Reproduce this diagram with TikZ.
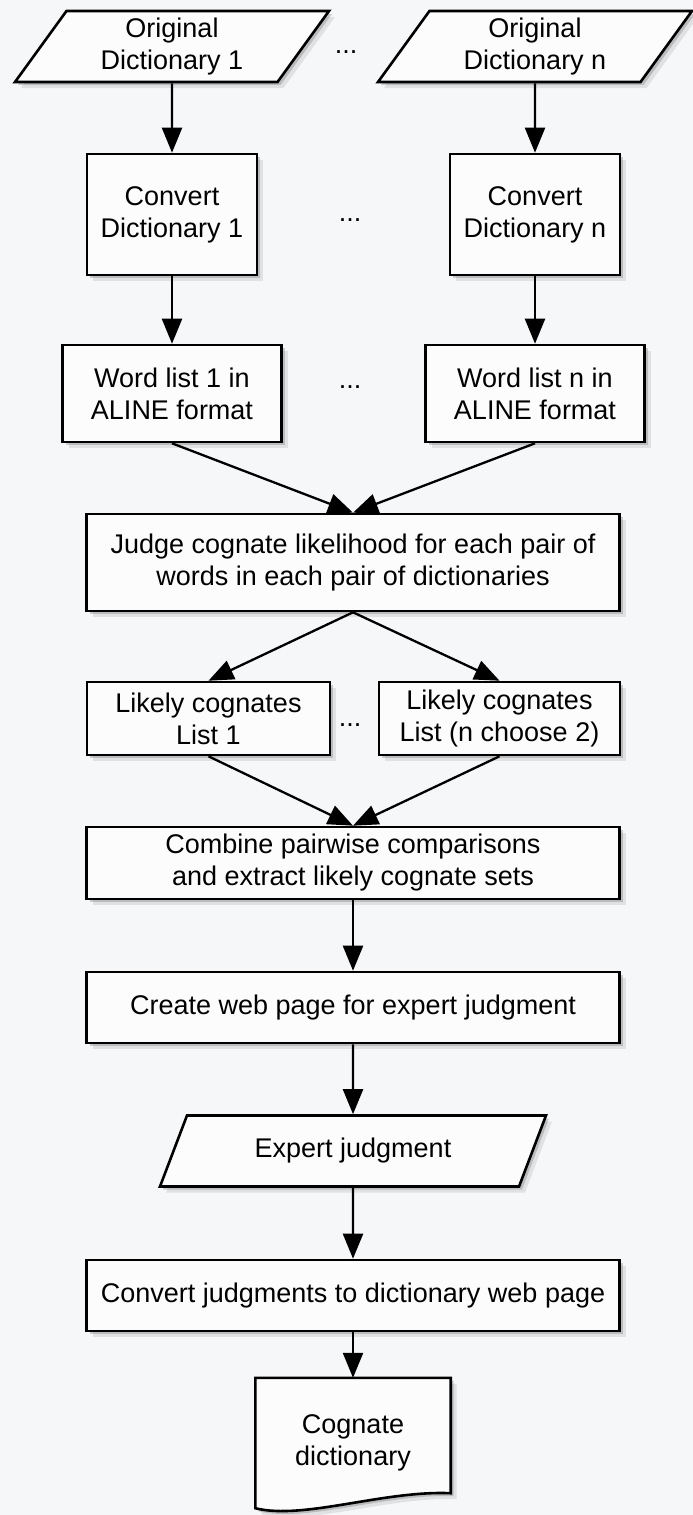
\documentclass[tikz,border=0pt]{standalone}
\usepackage{fontspec}
\setmainfont{Liberation Sans}
\usetikzlibrary{shapes.geometric,shadows,arrows.meta,backgrounds}
\definecolor{pagebg}{RGB}{245,247,249}
\definecolor{boxfill}{RGB}{252,252,253}
\begin{document}
\begin{tikzpicture}[x=1pt,y=1pt,
        every node/.style={font=\fontsize{27}{32}\selectfont, align=center},
        shade/.style={drop shadow={shadow xshift=6pt,shadow yshift=-6pt,opacity=0.15,fill=black!60},
                      drop shadow={shadow xshift=3pt,shadow yshift=-3pt,opacity=0.3,fill=black!60}},
        box/.style={draw, line width=2.6pt, fill=boxfill, inner sep=0pt, shade},
        io/.style={box, trapezium, trapezium stretches body, minimum height=71pt},
        flow/.style={line width=2.3pt, -{Triangle[length=25pt,width=20pt]}}]
    \useasboundingbox (0,0) rectangle (693,-1515);
    \begin{scope}[on background layer]
        \fill [pagebg] (0,0) rectangle (693,-1515);
    \end{scope}
    % inputs
    \node [io, trapezium left angle=48, trapezium right angle=132, minimum width=314pt] (orig1) at (172,-46.5) {Original\\Dictionary 1};
    \node [io, trapezium left angle=48, trapezium right angle=132, minimum width=314pt] (orign) at (535,-46.5) {Original\\Dictionary n};
    \node [anchor=base] (dotsa) at (346,-53) {...};
    % conversion
    \node [box, minimum width=170pt, minimum height=121pt] (conv1) at (172,-214.5) {Convert\\Dictionary 1};
    \node [box, minimum width=170pt, minimum height=121pt] (convn) at (535,-214.5) {Convert\\Dictionary n};
    \node [anchor=base] (dotsb) at (350,-221) {...};
    \node [box, minimum width=219pt, minimum height=97pt] (wl1) at (172,-393.5) {Word list 1 in\\ALINE format};
    \node [box, minimum width=219pt, minimum height=97pt] (wln) at (535,-393.5) {Word list n in\\ALINE format};
    \node [anchor=base] (dotsc) at (350,-388) {...};
    % comparison
    \node [box, minimum width=533pt, minimum height=97pt] (judge) at (353,-562.5) {Judge cognate likelihood for each pair of\\words in each pair of dictionaries};
    \node [box, minimum width=243pt, minimum height=73pt] (lk1) at (208.5,-718.5) {Likely cognates\\List 1};
    \node [box, minimum width=241pt, minimum height=73pt] (lkn) at (499.5,-718.5) {Likely cognates\\List (n choose 2)};
    \node [anchor=base] (dotsd) at (350,-726) {...};
    \node [box, minimum width=533pt, minimum height=72pt] (combine) at (353,-863) {Combine pairwise comparisons\\and extract likely cognate sets};
    \node [box, minimum width=533pt, minimum height=71pt] (create) at (353,-1007.5) {Create web page for expert judgment};
    \node [io, trapezium left angle=43, trapezium right angle=137, minimum width=386pt] (expert) at (353,-1151) {Expert judgment};
    \node [box, minimum width=533pt, minimum height=71pt] (convj) at (353,-1295.5) {Convert judgments to dictionary web page};
    % output document
    \node [minimum width=195pt, minimum height=130pt, inner sep=0pt] (cogdict) at (353,-1443) {Cognate\\dictionary};
    \begin{scope}[on background layer]
        \draw [line width=2.6pt, fill=boxfill, shade] (cogdict.north west) -- (cogdict.north east)
            -- ([yshift=15pt]cogdict.south east)
            .. controls ([shift={(-67pt,18pt)}]cogdict.south east) and ([shift={(48pt,-12pt)}]cogdict.south west) .. (cogdict.south west)
            -- cycle;
    \end{scope}
    % connectors
    \draw [flow] (orig1) -- (conv1);
    \draw [flow] (orign) -- (convn);
    \draw [flow] (conv1) -- (wl1);
    \draw [flow] (convn) -- (wln);
    \draw [flow] (wl1.south) -- (judge.north);
    \draw [flow] (wln.south) -- (judge.north);
    \draw [flow] (judge.south) -- (lk1.north);
    \draw [flow] (judge.south) -- (lkn.north);
    \draw [flow] (lk1.south) -- (combine.north);
    \draw [flow] (lkn.south) -- (combine.north);
    \draw [flow] (combine) -- (create);
    \draw [flow] (create) -- (expert);
    \draw [flow] (expert) -- (convj);
    \draw [flow] (convj) -- (cogdict);
\end{tikzpicture}
\end{document}
